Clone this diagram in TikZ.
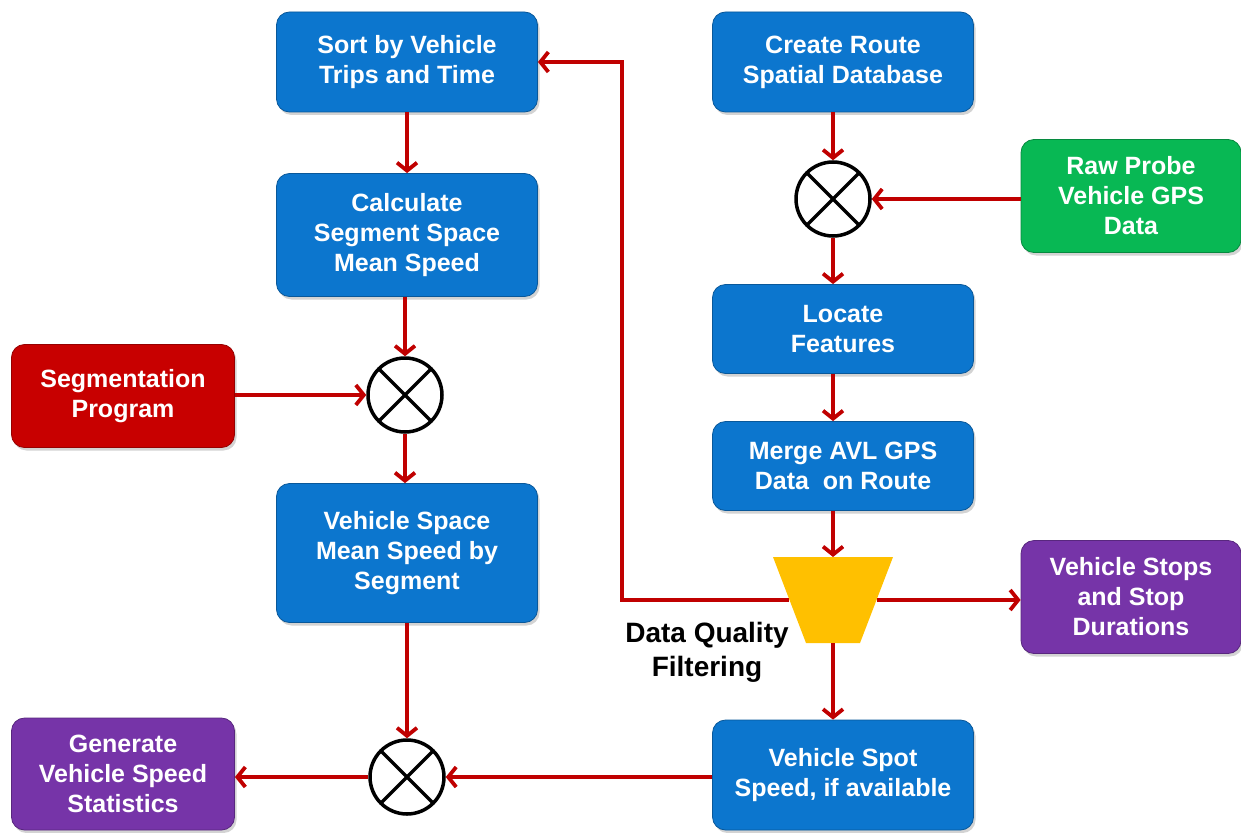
\documentclass[tikz,border=0pt]{standalone}
\usepackage{fontspec}
\setmainfont{Liberation Sans}
\usetikzlibrary{arrows.meta,shadows}
\definecolor{procblue}{RGB}{12,118,206}
\definecolor{procgreen}{RGB}{8,184,84}
\definecolor{procred}{RGB}{200,0,0}
\definecolor{procpurple}{RGB}{118,52,168}
\definecolor{filtyellow}{RGB}{255,192,0}
\definecolor{flowred}{RGB}{192,0,0}
\begin{document}
\begin{tikzpicture}[x=1pt,y=-1pt,
  proc/.style={rounded corners=13pt, draw=#1!75!black, line width=0.8pt, fill=#1,
    text=white, font=\fontsize{25}{30}\selectfont\bfseries, align=center, inner sep=0pt,
    drop shadow={shadow xshift=2pt, shadow yshift=-3pt, opacity=0.35}},
  merger/.style={circle, draw=black, line width=3.5pt, fill=white, minimum size=74, inner sep=0pt,
    path picture={\draw[line width=3.5pt] (path picture bounding box.north west) -- (path picture bounding box.south east)
      (path picture bounding box.north east) -- (path picture bounding box.south west);}},
  flow/.style={draw=flowred, line width=3.8pt, -{Straight Barb[length=8pt,width=20pt]}}]
\useasboundingbox (0,0) rectangle (1241,832);

% left column
\node [proc=procblue, minimum width=261, minimum height=100] (sort) at (407,62) {Sort by Vehicle\\Trips and Time};
\node [proc=procblue, minimum width=261, minimum height=123] (calc) at (407,235) {Calculate\\Segment Space\\Mean Speed};
\node [merger] (c1) at (405,395) {};
\node [proc=procred, minimum width=223, minimum height=103] (segprog) at (123,396) {Segmentation\\Program};
\node [proc=procblue, minimum width=261, minimum height=139] (vsms) at (407,553) {Vehicle Space\\Mean Speed by\\Segment};
\node [merger] (c3) at (407,777) {};
\node [proc=procpurple, minimum width=223, minimum height=112] (gen) at (123,774) {Generate\\Vehicle Speed\\Statistics};

% right column
\node [proc=procblue, minimum width=261, minimum height=100] (route) at (843,62) {Create Route\\Spatial Database};
\node [merger] (c2) at (833,199) {};
\node [proc=procgreen, minimum width=220, minimum height=113] (raw) at (1131,196) {Raw Probe\\Vehicle GPS\\Data};
\node [proc=procblue, minimum width=261, minimum height=89] (locate) at (843,329) {Locate\\Features};
\node [proc=procblue, minimum width=261, minimum height=89] (merge) at (843,466) {Merge AVL GPS\\Data~ on Route};
% filter: trapezoid drawn directly, node only carries the anchors
\fill[filtyellow] (773,557) -- (893,557) -- (860,643) -- (806,643) -- cycle;
\node [minimum width=88, minimum height=86, inner sep=0pt, outer sep=0pt] (filt) at (833,600) {};
\node [font=\fontsize{28}{34}\selectfont\bfseries, align=center] (dqlabel) at (707,652) {Data Quality\\Filtering};
\node [proc=procpurple, minimum width=220, minimum height=113] (stops) at (1131,597) {Vehicle Stops\\and Stop\\Durations};
\node [proc=procblue, minimum width=261, minimum height=110] (spot) at (843,775) {Vehicle Spot\\Speed, if available};
\coordinate (bend) at (622,600);

% connectors
\draw[flow] (sort) -- (calc);
\draw[flow] (calc.south -| c1) -- (c1.north);
\draw[flow] (segprog.east |- c1) -- (c1.west);
\draw[flow] (c1.south) -- (vsms.north -| c1);
\draw[flow] (vsms.south -| c3) -- (c3.north);
\draw[flow] (c3.west) -- (gen.east |- c3);
\draw[flow] (route.south -| c2) -- (c2.north);
\draw[flow] (raw.west |- c2) -- (c2.east);
\draw[flow] (c2.south) -- (locate.north -| c2);
\draw[flow] (locate.south -| c2) -- (merge.north -| c2);
\draw[flow] (merge.south -| filt) -- (filt.north);
\draw[flow] (filt.south) -- (spot.north -| filt);
\draw[flow] (filt.east) -- (stops.west |- filt);
\draw[flow] (spot.west |- c3) -- (c3.east);
\draw[flow] (filt.west) -- (bend) |- (sort.east);
\end{tikzpicture}
\end{document}
